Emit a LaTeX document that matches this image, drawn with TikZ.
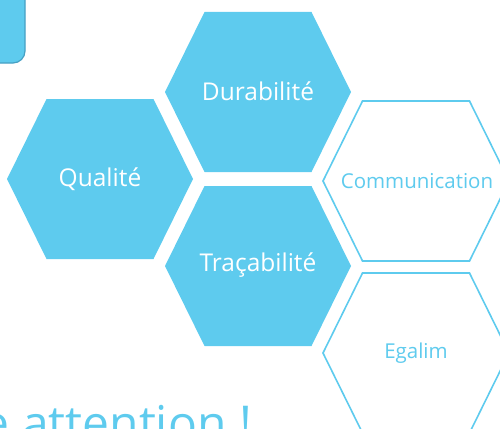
\documentclass[tikz,border=0pt]{standalone}
\usepackage{fontspec}
\setmainfont{Open Sans}
\definecolor{hexblue}{RGB}{94,203,238}
\definecolor{boxedge}{RGB}{70,160,195}
\tikzset{
  hexfill/.style={fill=hexblue, draw=none},
  hexline/.style={draw=hexblue, line width=1.6pt, fill=white, line join=miter},
  whitelabel/.style={text=white, font=\fontsize{24.5}{27}\selectfont, inner sep=0pt},
  bluelabel/.style={text=hexblue, font=\fontsize{20.5}{23}\selectfont, inner sep=0pt},
}
\newcommand{\hexat}[3]{% style, cx, cy
  \path[#1] (#2-93,#3) -- (#2-53.5,#3-80) -- (#2+53.5,#3-80) -- (#2+93,#3)
    -- (#2+53.5,#3+80) -- (#2-53.5,#3+80) -- cycle;}
\begin{document}
\begin{tikzpicture}[x=1pt,y=-1pt]
\useasboundingbox (0,0) rectangle (500,428);
\clip (0,0) rectangle (500,428);
% top-left rounded box
\draw[fill=hexblue, draw=boxedge, line width=1.2pt, rounded corners=12pt] (-30,-30) rectangle (25,63);
% filled hexagons
\hexat{hexfill}{258}{92}
\hexat{hexfill}{100}{179}
\hexat{hexfill}{258}{266}
% outlined hexagons
\hexat{hexline}{416}{181}
\hexat{hexline}{416}{353}
% labels
\node[whitelabel] (dur) at (258,91) {Durabilité};
\node[whitelabel] (qua) at (100,179) {Qualité};
\node[whitelabel] (tra) at (258,265) {Traçabilité};
\node[bluelabel] (com) at (417,181) {Communication};
\node[bluelabel] (ega) at (416,353) {Egalim};
% bottom text
\node[anchor=base west, text=hexblue, font=\fontsize{48}{52}\selectfont, inner sep=0pt] (att) at (-17.5,440) {e attention !};
\end{tikzpicture}
\end{document}
